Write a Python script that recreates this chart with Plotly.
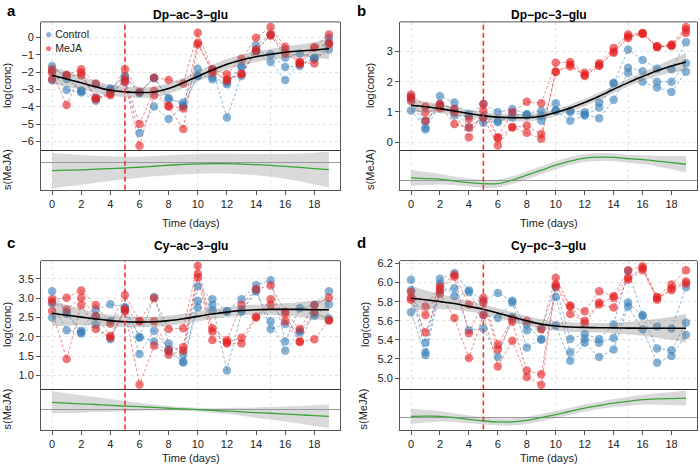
import plotly.graph_objects as go

# ---------------- data ----------------
DAYS = list(range(20))
X_TICKS = list(range(0, 19, 2))
TREATMENT_DAY = 5

TITLES = ["Dp−ac−3−glu", "Dp−pc−3−glu", "Cy−ac−3−glu", "Cy−pc−3−glu"]
LETTERS = ["a", "b", "c", "d"]
GROUPS = ["Control", "MeJA"]

# replicate values per day: [rep1, rep2, rep3]
A_CONTROL = [[-1.65, -1.93, -2.47], [-2.4, -3.03, -2.2], [-3.05, -3.18, -3.1], [-2.7, -3.66, -3.47],
             [-2.95, -3.08, -3.0], [-2.22, -2.57, -2.3], [-3.18, -5.52, -3.2], [-2.32, -3.98, -2.35],
             [-3.56, -4.71, -3.5], [-3.75, -3.98, -3.9], [-1.8, -2.22, -2.2], [-2.41, -1.84, -2.3],
             [-2.7, -4.62, -2.6], [-1.65, -2.22, -1.7], [-0.46, -0.79, -0.75], [0.17, -0.98, -1.42],
             [-1.17, -1.7, -2.45], [-0.92, -1.65, -1.5], [-1.17, -1.2, -1.25], [-0.02, -0.69, -0.3]]
A_MEJA = [[-1.84, -2.03, -2.41], [-2.15, -3.9, -2.2], [-1.84, -2.03, -2.2], [-2.66, -3.56, -3.5],
          [-3.18, -3.33, -3.25], [-1.84, -2.41, -2.57], [-3.14, -5.0, -6.25], [-2.32, -3.08, -3.33],
          [-2.45, -3.95, -3.98], [-2.66, -4.1, -5.29], [0.27, -0.31, -0.4], [-1.84, -2.03, -1.9],
          [-2.13, -2.41, -2.5], [-1.23, -2.13, -2.1], [-0.02, -0.79, -0.7], [0.61, 0.17, 0.1],
          [-0.54, -0.69, -0.92], [-1.42, -1.55, -1.45], [-0.56, -0.6, -1.5], [0.17, -0.31, -0.4]]

B_CONTROL = [[1.05, 1.42, 1.5], [0.49, 0.42, 0.71], [1.53, 1.26, 1.2], [1.31, 1.1, 0.88],
             [0.93, 0.49, 0.85], [1.26, 0.82, 0.64], [1.0, 0.66, 0.7], [1.1, 0.93, 0.82],
             [0.93, 0.88, 0.9], [1.04, 0.88, 0.71], [1.29, 1.04, 1.06], [1.04, 0.71, 1.0],
             [0.99, 0.88, 0.92], [1.31, 1.15, 0.79], [1.94, 1.97, 1.4], [3.07, 2.46, 2.3],
             [2.72, 2.35, 2.0], [2.43, 2.0, 1.81], [2.41, 2.0, 1.66], [3.31, 2.61, 2.33]]
B_MEJA = [[1.58, 1.48, 1.36], [1.18, 0.99, 0.71], [1.26, 1.12, 1.2], [1.1, 0.99, 0.6],
          [0.77, 0.16, 0.49], [1.26, 1.04, 0.82], [0.16, 0.13, -0.11], [0.99, 0.49, 0.5],
          [1.34, 0.55, 0.31], [1.29, 0.27, 0.11], [2.63, 2.32, 2.34], [2.65, 2.57, 2.5],
          [2.3, 2.19, 2.22], [2.61, 2.52, 2.55], [3.12, 2.96, 3.0], [3.56, 3.45, 3.5],
          [3.61, 3.6, 3.58], [3.18, 3.16, 3.14], [3.23, 3.18, 3.2], [3.81, 3.72, 3.61]]

C_CONTROL = [[3.18, 2.86, 2.5], [2.63, 2.17, 2.6], [2.16, 2.11, 2.09], [2.71, 2.52, 2.31],
             [2.84, 2.41, 1.94], [2.77, 2.74, 2.72], [1.98, 1.56, 2.0], [3.03, 2.16, 1.88],
             [1.83, 1.68, 1.62], [1.54, 1.34, 1.36], [3.31, 2.93, 2.76], [2.97, 2.82, 2.69],
             [2.67, 1.13, 2.65], [2.97, 2.65, 2.7], [3.34, 3.18, 3.2], [3.46, 2.4, 2.2],
             [1.88, 1.64, 2.33], [2.74, 2.11, 2.15], [2.82, 2.54, 2.6], [3.18, 2.84, 2.48]]
C_MEJA = [[2.97, 2.91, 2.67], [3.01, 2.71, 1.43], [3.2, 3.01, 2.82], [2.82, 2.54, 2.2],
          [2.34, 2.03, 1.98], [3.08, 2.71, 2.67], [2.41, 2.4, 0.77], [3.0, 2.4, 1.77],
          [2.2, 1.66, 1.54], [2.22, 1.73, 1.64], [3.84, 3.63, 3.54], [2.22, 2.14, 1.92],
          [1.92, 1.86, 1.83], [2.82, 1.98, 1.83], [3.23, 2.52, 2.5], [3.33, 2.97, 2.82],
          [2.65, 2.6, 2.41], [2.2, 1.88, 1.87], [2.82, 2.65, 1.94], [3.01, 2.43, 2.42]]

D_CONTROL = [[6.03, 5.92, 5.69], [5.37, 5.27, 5.24], [6.04, 5.99, 5.91], [6.1, 5.86, 5.94],
             [5.92, 5.9, 5.5], [5.81, 5.66, 5.52], [5.89, 5.63, 5.22], [5.81, 5.79, 5.64],
             [5.5, 5.32, 5.56], [5.52, 5.41, 5.4], [5.95, 5.85, 5.55], [5.41, 5.27, 5.18],
             [5.46, 5.41, 5.37], [5.41, 5.37, 5.22], [5.56, 5.42, 5.3], [6.12, 5.79, 5.75],
             [5.66, 5.65, 5.51], [5.54, 5.31, 5.16], [5.52, 5.29, 5.23], [5.95, 5.58, 5.45]]
D_MEJA = [[5.9, 5.84, 5.82], [5.75, 5.66, 5.48], [5.96, 5.93, 5.88], [6.08, 6.06, 5.63],
          [5.77, 5.47, 5.21], [5.84, 5.79, 5.66], [5.35, 5.3, 5.12], [5.62, 5.59, 5.39],
          [5.6, 5.08, 5.01], [5.51, 5.04, 4.93], [6.05, 5.98, 5.96], [5.75, 5.67, 5.76],
          [5.7, 5.6, 5.57], [5.91, 5.79, 5.77], [5.86, 5.84, 5.74], [6.13, 6.05, 6.03],
          [6.17, 6.15, 6.13], [5.85, 5.82, 5.84], [5.98, 5.94, 5.92], [6.13, 6.01, 5.99]]

# smooth trend s(Time) and its band half-width
A_FIT = [-2.18, -2.4, -2.62, -2.85, -3.05, -3.14, -3.18, -3.15, -2.95, -2.62, -2.25, -1.88,
         -1.55, -1.3, -1.11, -0.97, -0.85, -0.78, -0.72, -0.65]
A_FIT_SE = [0.52, 0.44, 0.38, 0.34, 0.32, 0.31, 0.31, 0.31, 0.31, 0.3, 0.3, 0.3, 0.3, 0.3,
            0.3, 0.31, 0.33, 0.37, 0.45, 0.6]
B_FIT = [1.22, 1.17, 1.11, 1.03, 0.95, 0.88, 0.83, 0.81, 0.81, 0.86, 0.98, 1.13, 1.31, 1.52,
         1.75, 1.97, 2.17, 2.36, 2.52, 2.65]
B_FIT_SE = [0.22, 0.18, 0.15, 0.13, 0.12, 0.12, 0.12, 0.12, 0.12, 0.12, 0.12, 0.12, 0.12,
            0.12, 0.12, 0.13, 0.14, 0.17, 0.22, 0.3]
C_FIT = [2.61, 2.56, 2.51, 2.46, 2.42, 2.39, 2.38, 2.39, 2.42, 2.47, 2.53, 2.59, 2.64, 2.68,
         2.7, 2.71, 2.71, 2.71, 2.7, 2.7]
C_FIT_SE = [0.33, 0.27, 0.21, 0.17, 0.15, 0.14, 0.13, 0.13, 0.13, 0.13, 0.13, 0.13, 0.13,
            0.13, 0.13, 0.14, 0.16, 0.19, 0.24, 0.29]
D_FIT = [5.835, 5.82, 5.8, 5.78, 5.75, 5.72, 5.68, 5.64, 5.6, 5.565, 5.545, 5.535, 5.53,
         5.527, 5.525, 5.523, 5.522, 5.522, 5.522, 5.522]
D_FIT_SE = [0.13, 0.1, 0.08, 0.065, 0.055, 0.05, 0.05, 0.05, 0.05, 0.05, 0.05, 0.05, 0.05,
            0.05, 0.055, 0.065, 0.08, 0.1, 0.12, 0.15]

# MeJA difference smooth s(MeJA) and band half-width
A_EFFECT = [-0.4, -0.38, -0.36, -0.33, -0.3, -0.27, -0.23, -0.18, -0.13, -0.09, -0.06, -0.05,
            -0.05, -0.07, -0.1, -0.14, -0.19, -0.24, -0.3, -0.35]
A_EFFECT_SE = [0.9, 0.82, 0.75, 0.68, 0.62, 0.57, 0.53, 0.51, 0.5, 0.5, 0.5, 0.5, 0.5, 0.51,
               0.53, 0.57, 0.62, 0.7, 0.8, 0.9]
B_EFFECT = [0.13, 0.1, 0.07, -0.02, -0.1, -0.16, -0.15, 0.02, 0.27, 0.52, 0.77, 0.98, 1.13,
            1.18, 1.17, 1.1, 1.05, 0.98, 0.9, 0.82]
B_EFFECT_SE = [0.4, 0.33, 0.27, 0.22, 0.2, 0.2, 0.2, 0.2, 0.2, 0.2, 0.2, 0.2, 0.2, 0.2, 0.2,
               0.2, 0.22, 0.27, 0.33, 0.42]
C_EFFECT = [0.365, 0.33, 0.29, 0.26, 0.22, 0.18, 0.15, 0.11, 0.07, 0.04, 0.0, -0.04, -0.07,
            -0.11, -0.15, -0.18, -0.22, -0.26, -0.3, -0.335]
C_EFFECT_SE = [0.565, 0.5, 0.44, 0.38, 0.32, 0.26, 0.2, 0.15, 0.11, 0.09, 0.09, 0.11, 0.15,
               0.2, 0.26, 0.32, 0.38, 0.44, 0.52, 0.59]
D_EFFECT = [0.035, 0.04, 0.035, -0.03, -0.12, -0.2, -0.25, -0.25, -0.17, -0.03, 0.12, 0.29,
            0.45, 0.58, 0.7, 0.79, 0.87, 0.91, 0.93, 0.95]
D_EFFECT_SE = [0.38, 0.32, 0.26, 0.22, 0.2, 0.18, 0.18, 0.18, 0.18, 0.18, 0.18, 0.18, 0.18,
               0.18, 0.2, 0.22, 0.25, 0.29, 0.33, 0.37]

A_YTICKS = [0, -1, -2, -3, -4, -5, -6]
B_YTICKS = [0, 1, 2, 3]
C_YTICKS = [1.0, 1.5, 2.0, 2.5, 3.0, 3.5]
D_YTICKS = [5.0, 5.2, 5.4, 5.6, 5.8, 6.0, 6.2]

# ---------------- layout config ----------------
W, H = 700, 464
FONT = "Liberation Sans, Arial, Helvetica, sans-serif"
BLUE = "rgba(55,126,184,0.6)"
RED = "rgba(228,26,28,0.6)"
BLUE_LN = "rgba(55,126,184,0.55)"
RED_LN = "rgba(228,26,28,0.5)"
FRAME = "#555555"
SEP = "#333333"
GRID = "#e2e2e2"
XRANGE = [-0.76, 19.76]

COL_PX = [(41, 340), (400, 697)]
ROW_PX = [(19, 148, 188), (259.3, 389, 429.3)]
TIME_Y = [221, 458]
LETTER_Y = [8, 241]
TITLE_Y = [12, 245]
YLAB_X = [7, 370, 7, 365]
ELAB_X = [7, 370, 7, 363]

panels = [
    dict(ctrl=A_CONTROL, meja=A_MEJA, fit=A_FIT, se=A_FIT_SE, eff=A_EFFECT, ese=A_EFFECT_SE,
         yt=A_YTICKS, fmt="d", yr=[-6.5, 0.9], er=[-1.365, 0.635]),
    dict(ctrl=B_CONTROL, meja=B_MEJA, fit=B_FIT, se=B_FIT_SE, eff=B_EFFECT, ese=B_EFFECT_SE,
         yt=B_YTICKS, fmt="d", yr=[-0.26, 3.98], er=[-0.465, 1.535]),
    dict(ctrl=C_CONTROL, meja=C_MEJA, fit=C_FIT, se=C_FIT_SE, eff=C_EFFECT, ese=C_EFFECT_SE,
         yt=C_YTICKS, fmt=".1f", yr=[0.64, 3.97], er=[-1.0, 1.015]),
    dict(ctrl=D_CONTROL, meja=D_MEJA, fit=D_FIT, se=D_FIT_SE, eff=D_EFFECT, ese=D_EFFECT_SE,
         yt=D_YTICKS, fmt=".1f", yr=[4.88, 6.23], er=[-0.63, 1.385]),
]


def px_x(p):
    return p / W


def px_y(p):
    return 1 - p / H


fig = go.Figure()
layout = {}
shapes = []
annotations = []

for i, pnl in enumerate(panels):
    col, row = i % 2, i // 2
    n_up, n_lo = 2 * i + 1, 2 * i + 2
    xa_up = "x" if n_up == 1 else f"x{n_up}"
    ya_up = "y" if n_up == 1 else f"y{n_up}"
    xa_lo, ya_lo = f"x{n_lo}", f"y{n_lo}"
    x0p, x1p = COL_PX[col]
    top, mid, bot = ROW_PX[row]
    xdom = [px_x(x0p), px_x(x1p)]

    # replicate lines
    for grp, color in ((pnl["ctrl"], BLUE_LN), (pnl["meja"], RED_LN)):
        for k in range(3):
            fig.add_trace(go.Scatter(
                x=DAYS, y=[d[k] for d in grp], mode="lines", xaxis=xa_up, yaxis=ya_up,
                line=dict(color=color, width=1, dash="3px,2px"), showlegend=False,
                hoverinfo="skip"))
    # points
    for grp, color, name in ((pnl["ctrl"], BLUE, GROUPS[0]), (pnl["meja"], RED, GROUPS[1])):
        fig.add_trace(go.Scatter(
            x=[d for d in DAYS for _ in range(3)], y=[v for day in grp for v in day],
            mode="markers", xaxis=xa_up, yaxis=ya_up, name=name,
            marker=dict(color=color, size=8.5, line=dict(width=0)), showlegend=False))
    # smooth fit with band
    fig.add_trace(go.Scatter(x=DAYS, y=[f + s for f, s in zip(pnl["fit"], pnl["se"])],
                             mode="lines", line=dict(width=0, shape="spline"),
                             xaxis=xa_up, yaxis=ya_up, showlegend=False, hoverinfo="skip"))
    fig.add_trace(go.Scatter(x=DAYS, y=[f - s for f, s in zip(pnl["fit"], pnl["se"])],
                             mode="lines", line=dict(width=0, shape="spline"), fill="tonexty",
                             fillcolor="rgba(120,120,120,0.33)",
                             xaxis=xa_up, yaxis=ya_up, showlegend=False, hoverinfo="skip"))
    fig.add_trace(go.Scatter(x=DAYS, y=pnl["fit"], mode="lines",
                             line=dict(color="black", width=1.6, shape="spline"),
                             xaxis=xa_up, yaxis=ya_up, showlegend=False))
    # effect panel
    fig.add_trace(go.Scatter(x=DAYS, y=[f + s for f, s in zip(pnl["eff"], pnl["ese"])],
                             mode="lines", line=dict(width=0, shape="spline"),
                             xaxis=xa_lo, yaxis=ya_lo, showlegend=False, hoverinfo="skip"))
    fig.add_trace(go.Scatter(x=DAYS, y=[f - s for f, s in zip(pnl["eff"], pnl["ese"])],
                             mode="lines", line=dict(width=0, shape="spline"), fill="tonexty",
                             fillcolor="rgba(150,150,150,0.35)",
                             xaxis=xa_lo, yaxis=ya_lo, showlegend=False, hoverinfo="skip"))
    fig.add_trace(go.Scatter(x=DAYS, y=pnl["eff"], mode="lines",
                             line=dict(color="#3aa537", width=1.3, shape="spline"),
                             xaxis=xa_lo, yaxis=ya_lo, showlegend=False))

    layout["xaxis" if n_up == 1 else f"xaxis{n_up}"] = dict(
        domain=xdom, range=XRANGE, anchor=ya_up, tickvals=[0, 5, 10, 15], showticklabels=False,
        ticks="", showgrid=True, gridcolor=GRID, griddash="dot", gridwidth=1,
        showline=True, linecolor=SEP, linewidth=1, mirror=False, zeroline=False)
    layout["yaxis" if n_up == 1 else f"yaxis{n_up}"] = dict(
        domain=[px_y(mid), px_y(top)], range=pnl["yr"], anchor=xa_up, tickvals=pnl["yt"],
        tickformat=pnl["fmt"], ticks="outside", ticklen=4, tickcolor=FRAME,
        showgrid=True, gridcolor=GRID, griddash="dot", gridwidth=1,
        tickfont=dict(size=11, color="#222"),
        showline=True, linecolor=FRAME, linewidth=1, mirror=True, zeroline=False)
    layout[f"xaxis{n_lo}"] = dict(
        domain=xdom, range=XRANGE, anchor=ya_lo, tickvals=X_TICKS, ticks="outside",
        ticklen=4, tickcolor=FRAME, showgrid=False, tickfont=dict(size=11, color="#222"),
        showline=True, linecolor=FRAME, linewidth=1, mirror=False, zeroline=False)
    layout[f"yaxis{n_lo}"] = dict(
        domain=[px_y(bot), px_y(mid)], range=pnl["er"], anchor=xa_lo, showticklabels=False,
        ticks="", showgrid=False, showline=True, linecolor=FRAME, linewidth=1, mirror=True,
        zeroline=True, zerolinecolor="#9a9a9a", zerolinewidth=1)

    # top frame edge of upper panel
    shapes.append(dict(type="line", xref=f"{xa_up} domain", yref=f"{ya_up} domain",
                       x0=0, x1=1, y0=1, y1=1, line=dict(color=FRAME, width=1)))
    # vertical dotted grid in effect panel
    for gx in (0, 10, 15):
        shapes.append(dict(type="line", xref=xa_lo, yref=f"{ya_lo} domain", x0=gx, x1=gx,
                           y0=0, y1=1, line=dict(color=GRID, width=1, dash="dot"), layer="below"))
    # treatment line
    shapes.append(dict(type="line", xref=xa_up, yref="paper", x0=TREATMENT_DAY,
                       x1=TREATMENT_DAY, y0=px_y(bot), y1=px_y(top),
                       line=dict(color="#e8383b", width=1.6, dash="5px,3px")))

    cx = (x0p + x1p) / 2
    annotations += [
        dict(text=f"<b>{LETTERS[i]}</b>", x=px_x(5 if col == 0 else 355),
             y=px_y(LETTER_Y[row]), xref="paper", yref="paper", showarrow=False,
             xanchor="left", yanchor="middle", font=dict(size=15, color="black")),
        dict(text=f"<b>{TITLES[i]}</b>", x=px_x(cx), y=px_y(TITLE_Y[row]),
             xref="paper", yref="paper", showarrow=False, xanchor="center", yanchor="middle",
             font=dict(size=12, color="black")),
        dict(text="log(conc)", x=px_x(YLAB_X[i]), y=px_y((top + mid) / 2), xref="paper",
             yref="paper", showarrow=False, textangle=-90, xanchor="center", yanchor="middle",
             font=dict(size=11, color="#222")),
        dict(text="s(MeJA)", x=px_x(ELAB_X[i]), y=px_y((mid + bot) / 2), xref="paper",
             yref="paper", showarrow=False, textangle=-90, xanchor="center", yanchor="middle",
             font=dict(size=11, color="#222")),
        dict(text="Time (days)", x=px_x(cx), y=px_y(TIME_Y[row]), xref="paper", yref="paper",
             showarrow=False, xanchor="center", yanchor="middle",
             font=dict(size=11, color="#222")),
    ]

# legend (panel a), one block of two rows
legend_rows = [f'<span style="color:{c};font-size:12px">●</span> {n}'
               for n, c in ((GROUPS[0], BLUE), (GROUPS[1], RED))]
annotations.append(dict(
    text="<br>".join(legend_rows), x=px_x(43), y=px_y(38), xref="paper", yref="paper",
    showarrow=False, xanchor="left", yanchor="middle", align="left",
    font=dict(size=10.5, color="#222")))

fig.update_layout(
    width=W, height=H, margin=dict(l=0, r=0, t=0, b=0),
    paper_bgcolor="white", plot_bgcolor="white",
    font=dict(family=FONT, size=11, color="#222"),
    shapes=shapes, annotations=annotations, showlegend=False,
    **layout,
)

fig.write_html("out.html", config={"displayModeBar": False},
               post_script="document.body.style.margin='0';document.body.style.overflow='hidden';")
